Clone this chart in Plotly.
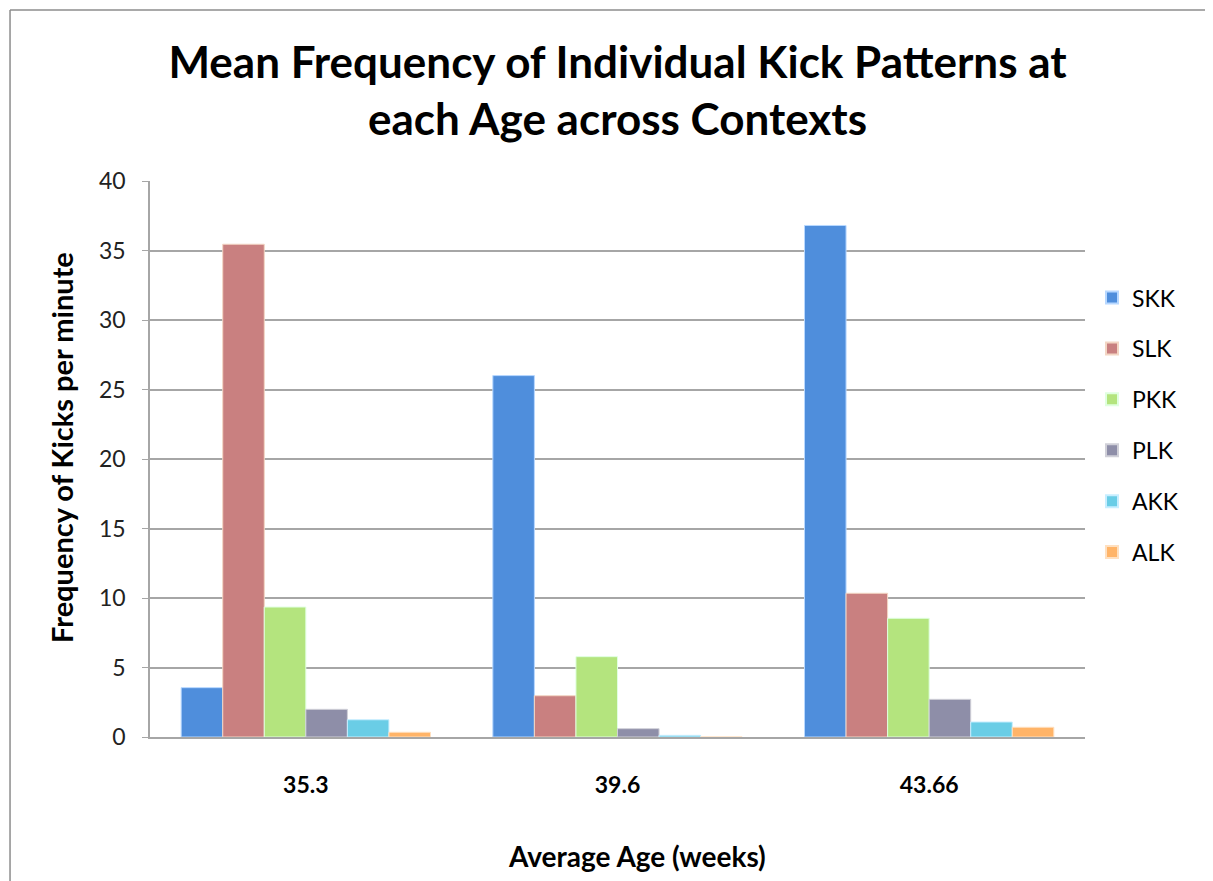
import plotly.graph_objects as go

ages = ["35.3", "39.6", "43.66"]
series_names = ["SKK", "SLK", "PKK", "PLK", "AKK", "ALK"]
skk = [3.55, 26.0, 36.8]
slk = [35.45, 2.97, 10.34]
pkk = [9.35, 5.78, 8.54]
plk = [1.99, 0.6, 2.71]
akk = [1.24, 0.12, 1.08]
alk = [0.34, 0.0, 0.70]
y_ticks = [0, 5, 10, 15, 20, 25, 30, 35, 40]

values = [skk, slk, pkk, plk, akk, alk]
colors = ["#4F8EDC", "#C98080", "#B4E47E", "#8E8EA8", "#6ACDE6", "#FFB468"]
line_colors = ["#B8D8FF", "#F3D6C4", "#E0FFE0", "#D0D0D8", "#C8EEFF", "#FFE0C0"]

FONT = "Lato"

fig = go.Figure()
for name, vals, c, lc in zip(series_names, values, colors, line_colors):
    fig.add_trace(go.Bar(
        name=name, x=ages, y=vals, legendgroup=name,
        marker=dict(color=c, line=dict(color=lc, width=1)),
    ))

fig.update_layout(
    width=1205, height=873,
    margin=dict(l=142, r=128, t=173, b=144),
    paper_bgcolor="white", plot_bgcolor="white",
    barmode="group", bargap=0.2, bargroupgap=0,
    font=dict(family=FONT, color="#000000", size=23),
    title=dict(
        text="<b>Mean Frequency of Individual Kick Patterns at<br>each Age across Contexts</b>",
        x=0.5058, xanchor="center", y=0.9195, yanchor="middle",
        font=dict(family=FONT, size=44, color="#000000"),
    ),
    legend=dict(
        x=1.0075, xanchor="left", y=0.561, yanchor="middle",
        font=dict(family=FONT, size=23, color="#000000"),
        tracegroupgap=18, itemsizing="constant",
        bgcolor="rgba(0,0,0,0)",
    ),
    showlegend=True,
)

fig.update_yaxes(
    range=[0, 40], tickvals=y_ticks, ticktext=[str(v) for v in y_ticks],
    showgrid=True, gridcolor="#A6A6A6", gridwidth=1.5,
    showline=True, linecolor="#A6A6A6", linewidth=1.5,
    ticks="outside", ticklen=6, tickcolor="#A6A6A6",
    ticklabelstandoff=12,
    tickfont=dict(family=FONT, size=23, color="#222222"),
    zeroline=False,
)
fig.update_xaxes(
    showline=True, linecolor="#A6A6A6", linewidth=1.5,
    ticks="", showgrid=False,
    tickfont=dict(family=FONT, size=23, color="#000000"),
    ticklabelstandoff=27,
    ticktext=["<b>%s</b>" % a for a in ages], tickvals=ages,
)

fig.add_annotation(text="<b>Frequency of Kicks per minute</b>", xref="paper", yref="paper",
                   x=-0.0941, y=0.5198, xanchor="center", yanchor="middle",
                   textangle=-90, showarrow=False,
                   font=dict(family=FONT, size=29, color="#000000"))
fig.add_annotation(text="<b>Average Age (weeks)</b>", xref="paper", yref="paper",
                   x=0.5209, y=-0.214, xanchor="center", yanchor="middle",
                   showarrow=False,
                   font=dict(family=FONT, size=28, color="#000000"))

# chart-area border (top and left edges visible in the reference)
fig.add_shape(type="line", xref="paper", yref="paper",
              x0=-0.1497, x1=1.2, y0=1.3076, y1=1.3076,
              line=dict(color="#8C8C8C", width=1.5), layer="below")
fig.add_shape(type="line", xref="paper", yref="paper",
              x0=-0.1497, x1=-0.1497, y0=-0.4, y1=1.3076,
              line=dict(color="#8C8C8C", width=1.5), layer="below")

fig.write_html("out.html")
